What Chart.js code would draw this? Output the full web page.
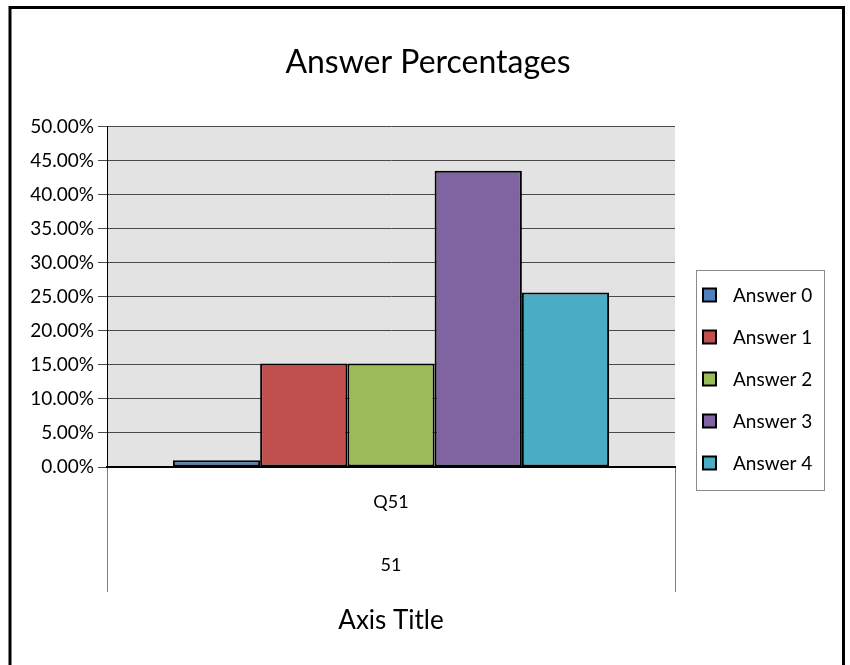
<!DOCTYPE html>
<html>
<head>
<meta charset="utf-8">
<script src="https://cdn.jsdelivr.net/npm/chart.js@4"></script>
<style>
  html, body { margin: 0; padding: 0; background: #ffffff; }
  #wrap { width: 850px; height: 665px; position: relative; }
</style>
</head>
<body>
<div id="wrap"><canvas id="myChart" width="850" height="665"></canvas></div>
<script>
let categories = ['Q51'];
let subCategories = ['51'];
let seriesNames = ['Answer 0', 'Answer 1', 'Answer 2', 'Answer 3', 'Answer 4'];
let seriesValues = [1.0, 15.2, 15.2, 43.5, 25.6];
let seriesColors = ['#4F81BD', '#C0504D', '#9BBB59', '#8064A2', '#4BACC6'];

let fontName = 'Lato';

// grey plot area + outer frame
let backdrop = {
    id: 'backdrop',
    beforeDraw(chart) {
        let ctx = chart.ctx;
        let a = chart.chartArea;
        ctx.save();
        ctx.fillStyle = '#e3e3e3';
        ctx.fillRect(a.left, a.top, a.right - a.left, a.bottom - a.top);
        ctx.restore();
    },
    afterDraw(chart) {
        let ctx = chart.ctx;
        ctx.save();
        ctx.strokeStyle = '#000000';
        ctx.lineWidth = 3;
        ctx.strokeRect(10, 7.5, 833.5, 700);
        ctx.restore();
    }
};

// excel style legend box on the right
let boxLegend = {
    id: 'boxLegend',
    afterDraw(chart) {
        let ctx = chart.ctx;
        ctx.save();
        ctx.strokeStyle = '#8a8a8a';
        ctx.lineWidth = 1;
        ctx.strokeRect(696.5, 270.5, 128, 220);
        ctx.font = '19px ' + fontName;
        ctx.textBaseline = 'middle';
        chart.data.datasets.forEach(function (ds, i) {
            let y = 295 + i * 42;
            ctx.fillStyle = ds.backgroundColor;
            ctx.fillRect(703, y - 6.5, 13, 13);
            ctx.strokeStyle = '#000000';
            ctx.lineWidth = 2;
            ctx.strokeRect(703, y - 6.5, 13, 13);
            ctx.fillStyle = '#000000';
            ctx.fillText(ds.label, 733, y + 1);
        });
        ctx.restore();
    }
};

let datasets = seriesNames.map(function (name, i) {
    return {
        label: name,
        data: [seriesValues[i]],
        backgroundColor: seriesColors[i],
        borderColor: '#000000',
        borderWidth: 2,
        borderSkipped: false,
        categoryPercentage: 0.768,
        barPercentage: 1
    };
});

let chart1 = new Chart(document.getElementById('myChart'), {
    type: 'bar',
    data: {
        labels: categories,
        datasets: datasets
    },
    options: {
        responsive: false,
        animation: false,
        events: [],
        layout: {
            padding: { left: 10, right: 4, top: 0, bottom: 29 }
        },
        plugins: {
            legend: { display: false },
            tooltip: { enabled: false },
            title: {
                display: true,
                text: 'Answer Percentages',
                color: '#000000',
                font: { family: fontName, size: 32, weight: 'normal' },
                padding: { top: 43, bottom: 45 }
            }
        },
        scales: {
            y: {
                min: 0,
                max: 50,
                afterFit: function (axis) { axis.width = 97; },
                ticks: {
                    stepSize: 5,
                    padding: 4,
                    color: '#000000',
                    font: { family: fontName, size: 19 },
                    callback: function (v) { return v.toFixed(2) + '%'; }
                },
                grid: { color: '#4a4a4a', lineWidth: 1, tickLength: 9 },
                border: { color: '#000000', width: 1 }
            },
            yRight: {
                position: 'right',
                afterFit: function (axis) { axis.width = 171; },
                ticks: { display: false },
                grid: { display: false },
                border: { display: false }
            },
            x: {
                position: 'bottom',
                afterFit: function (axis) { axis.height = 62; },
                ticks: {
                    padding: -38,
                    color: '#000000',
                    font: { family: fontName, size: 18 }
                },
                grid: { offset: true, drawOnChartArea: false, tickLength: 62, color: '#808080' },
                border: { color: '#000000', width: 2 }
            },
            x2: {
                type: 'category',
                position: 'bottom',
                labels: subCategories,
                afterFit: function (axis) { axis.height = 107; },
                ticks: {
                    padding: -38,
                    color: '#000000',
                    font: { family: fontName, size: 18 }
                },
                grid: { offset: true, drawOnChartArea: false, tickLength: 63, color: '#808080' },
                border: { display: false },
                title: {
                    display: true,
                    text: 'Axis Title',
                    color: '#000000',
                    font: { family: fontName, size: 26 },
                    padding: 0
                }
            }
        }
    },
    plugins: [backdrop, boxLegend]
});
</script>
</body>
</html>
